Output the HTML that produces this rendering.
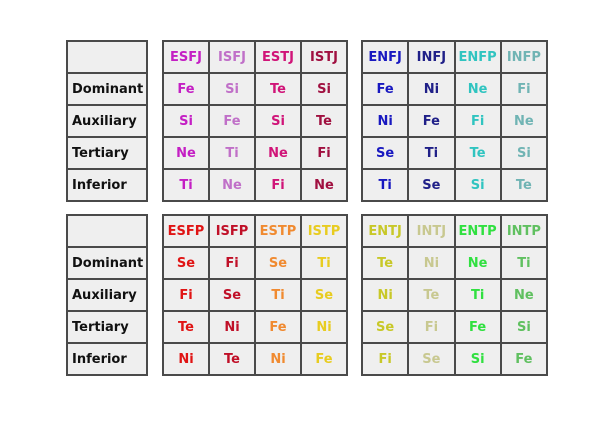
<!DOCTYPE html>
<html><head><meta charset="utf-8"><style>
body{margin:0;width:602px;height:421px;background:#fff;overflow:hidden;position:relative;font-family:"DejaVu Sans","Liberation Sans",sans-serif;font-weight:bold;font-size:13px}
table{position:absolute;border-collapse:collapse;table-layout:fixed}
td{border:2px solid #4a4a4a;background:#efefef;height:30px;padding:0;text-align:center}
td.l{text-align:left;padding-left:4px;color:#111}
</style></head><body>
<table style="left:66px;top:40px;width:82px"><tr><td></td></tr><tr><td class="l">Dominant</td></tr><tr><td class="l">Auxiliary</td></tr><tr><td class="l">Tertiary</td></tr><tr><td class="l">Inferior</td></tr></table>
<table style="left:66px;top:214px;width:82px"><tr><td></td></tr><tr><td class="l">Dominant</td></tr><tr><td class="l">Auxiliary</td></tr><tr><td class="l">Tertiary</td></tr><tr><td class="l">Inferior</td></tr></table>

<table style="left:162px;top:40px;width:186px">
<tr><td style="color:#c41fc4">ESFJ</td><td style="color:#c070c8">ISFJ</td><td style="color:#d01478">ESTJ</td><td style="color:#a01040">ISTJ</td></tr>
<tr><td style="color:#c41fc4">Fe</td><td style="color:#c070c8">Si</td><td style="color:#d01478">Te</td><td style="color:#a01040">Si</td></tr>
<tr><td style="color:#c41fc4">Si</td><td style="color:#c070c8">Fe</td><td style="color:#d01478">Si</td><td style="color:#a01040">Te</td></tr>
<tr><td style="color:#c41fc4">Ne</td><td style="color:#c070c8">Ti</td><td style="color:#d01478">Ne</td><td style="color:#a01040">Fi</td></tr>
<tr><td style="color:#c41fc4">Ti</td><td style="color:#c070c8">Ne</td><td style="color:#d01478">Fi</td><td style="color:#a01040">Ne</td></tr>
</table>

<table style="left:361px;top:40px;width:187px">
<tr><td style="color:#1818c0">ENFJ</td><td style="color:#202088">INFJ</td><td style="color:#30c4c0">ENFP</td><td style="color:#70b4b4">INFP</td></tr>
<tr><td style="color:#1818c0">Fe</td><td style="color:#202088">Ni</td><td style="color:#30c4c0">Ne</td><td style="color:#70b4b4">Fi</td></tr>
<tr><td style="color:#1818c0">Ni</td><td style="color:#202088">Fe</td><td style="color:#30c4c0">Fi</td><td style="color:#70b4b4">Ne</td></tr>
<tr><td style="color:#1818c0">Se</td><td style="color:#202088">Ti</td><td style="color:#30c4c0">Te</td><td style="color:#70b4b4">Si</td></tr>
<tr><td style="color:#1818c0">Ti</td><td style="color:#202088">Se</td><td style="color:#30c4c0">Si</td><td style="color:#70b4b4">Te</td></tr>
</table>

<table style="left:162px;top:214px;width:186px">
<tr><td style="color:#e01414">ESFP</td><td style="color:#c01028">ISFP</td><td style="color:#f08a30">ESTP</td><td style="color:#e8cc20">ISTP</td></tr>
<tr><td style="color:#e01414">Se</td><td style="color:#c01028">Fi</td><td style="color:#f08a30">Se</td><td style="color:#e8cc20">Ti</td></tr>
<tr><td style="color:#e01414">Fi</td><td style="color:#c01028">Se</td><td style="color:#f08a30">Ti</td><td style="color:#e8cc20">Se</td></tr>
<tr><td style="color:#e01414">Te</td><td style="color:#c01028">Ni</td><td style="color:#f08a30">Fe</td><td style="color:#e8cc20">Ni</td></tr>
<tr><td style="color:#e01414">Ni</td><td style="color:#c01028">Te</td><td style="color:#f08a30">Ni</td><td style="color:#e8cc20">Fe</td></tr>
</table>

<table style="left:361px;top:214px;width:187px">
<tr><td style="color:#c8c828">ENTJ</td><td style="color:#c8c890">INTJ</td><td style="color:#30e040">ENTP</td><td style="color:#60c060">INTP</td></tr>
<tr><td style="color:#c8c828">Te</td><td style="color:#c8c890">Ni</td><td style="color:#30e040">Ne</td><td style="color:#60c060">Ti</td></tr>
<tr><td style="color:#c8c828">Ni</td><td style="color:#c8c890">Te</td><td style="color:#30e040">Ti</td><td style="color:#60c060">Ne</td></tr>
<tr><td style="color:#c8c828">Se</td><td style="color:#c8c890">Fi</td><td style="color:#30e040">Fe</td><td style="color:#60c060">Si</td></tr>
<tr><td style="color:#c8c828">Fi</td><td style="color:#c8c890">Se</td><td style="color:#30e040">Si</td><td style="color:#60c060">Fe</td></tr>
</table>
</body></html>
